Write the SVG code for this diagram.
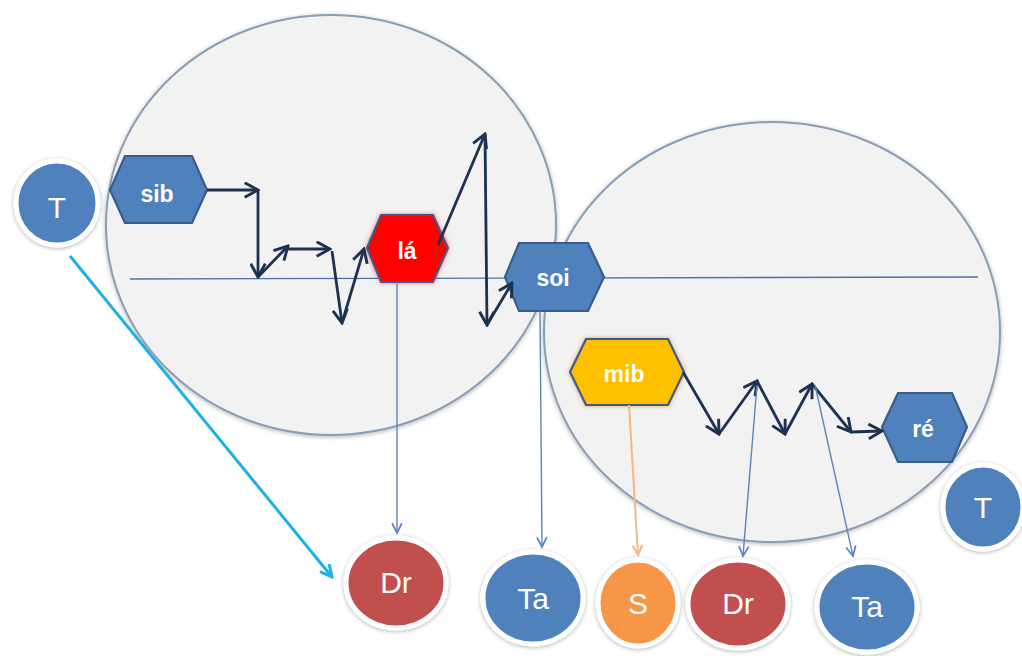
<svg xmlns="http://www.w3.org/2000/svg" width="1022" height="656" viewBox="0 0 1022 656">
<defs>
<style>
.big{fill:#F2F2F2;stroke:#8A9DB5;stroke-width:2;filter:url(#sh)}
.axis{stroke:#4A72AA;stroke-width:1.3;fill:none}
.hex{stroke:#385D8A;stroke-width:2.2}
.blue{fill:#4F81BD}
.red{fill:#C0504D}
.orange{fill:#F79646}
.circ{stroke:#FFFFFF;stroke-width:5;filter:url(#sh)}
.hl{font-family:"Liberation Sans",Arial,sans-serif;font-weight:bold;font-size:23px;fill:#FFFFFF;text-anchor:middle}
.cl{font-family:"Liberation Sans",Arial,sans-serif;font-size:30px;fill:#FFFFFF;text-anchor:middle}
.dk{stroke:#1C3250;stroke-width:2.8;fill:none;marker-end:url(#ad)}
.tb{stroke:#5A86BE;stroke-width:1.4;fill:none;marker-end:url(#at)}
.pc{stroke:#F2B88A;stroke-width:2;fill:none;marker-end:url(#ap)}
.cy{stroke:#1EB1E6;stroke-width:3;fill:none;marker-end:url(#ac)}
</style>
<filter id="sh" x="-20%" y="-20%" width="140%" height="140%">
<feDropShadow dx="0" dy="1" stdDeviation="2" flood-color="#000" flood-opacity="0.3"/>
</filter>
<filter id="gr" x="-20%" y="-20%" width="140%" height="140%">
<feDropShadow dx="0" dy="0" stdDeviation="2" flood-color="#FF3030" flood-opacity="0.7"/>
</filter>
<filter id="go" x="-20%" y="-20%" width="140%" height="140%">
<feDropShadow dx="0" dy="0" stdDeviation="2" flood-color="#E08020" flood-opacity="0.7"/>
</filter>
<marker id="ad" viewBox="0 0 14 14" refX="12.5" refY="7" markerWidth="17" markerHeight="17" markerUnits="userSpaceOnUse" orient="auto">
<path d="M1.5,1 L12.5,7 L1.5,13" fill="none" stroke="#1C3250" stroke-width="2.4"/>
</marker>
<marker id="at" viewBox="0 0 12 12" refX="10.5" refY="6" markerWidth="13" markerHeight="13" markerUnits="userSpaceOnUse" orient="auto">
<path d="M1.5,1.5 L10.5,6 L1.5,10.5" fill="none" stroke="#5A86BE" stroke-width="1.6"/>
</marker>
<marker id="ap" viewBox="0 0 12 12" refX="10.5" refY="6" markerWidth="13" markerHeight="13" markerUnits="userSpaceOnUse" orient="auto">
<path d="M1.5,1.5 L10.5,6 L1.5,10.5" fill="none" stroke="#F2B88A" stroke-width="2"/>
</marker>
<marker id="ac" viewBox="0 0 14 14" refX="12.5" refY="7" markerWidth="15" markerHeight="15" markerUnits="userSpaceOnUse" orient="auto">
<path d="M1.5,1.5 L12.5,7 L1.5,12.5" fill="none" stroke="#1EB1E6" stroke-width="2.8"/>
</marker>
</defs>

<g id="background">
<ellipse class="big" cx="331" cy="225" rx="225" ry="210"/>
<ellipse class="big" cx="772" cy="332" rx="228" ry="210"/>
<line class="axis" x1="130" y1="279" x2="978" y2="277"/>
</g>

<g id="node-T1">
<ellipse class="circ blue" cx="57" cy="203" rx="41" ry="42"/>
<text class="cl" x="57" y="218">T</text>
</g>
<g id="node-sib">
<polygon class="hex blue" points="110,190 125,156 192,156 207,190 192,223 125,223"/>
<text class="hl" x="157" y="202">sib</text>
</g>
<g id="node-la">
<polygon class="hex" fill="#FF0000" filter="url(#gr)" points="367,248 381,215 433,215 448,248 433,282 381,282"/>
<text class="hl" x="407" y="259">lá</text>
</g>
<g id="node-soi">
<polygon class="hex blue" points="505,277 519,243 588,243 604,277 588,311 519,311"/>
<text class="hl" x="553" y="286">soi</text>
</g>
<g id="node-mib">
<polygon class="hex" fill="#FFC000" filter="url(#go)" points="570,372 586,339 668,339 684,372 668,405 586,405"/>
<text class="hl" x="624" y="382">mib</text>
</g>
<g id="node-re">
<polygon class="hex blue" points="882,427 898,393 952,393 967,427 952,462 898,462"/>
<text class="hl" x="923" y="437">ré</text>
</g>
<g id="node-T2">
<ellipse class="circ blue" cx="983" cy="507" rx="40" ry="42"/>
<text class="cl" x="983" y="518">T</text>
</g>
<g id="node-Dr1">
<ellipse class="circ red" cx="396" cy="583" rx="50" ry="45"/>
<text class="cl" x="396" y="593">Dr</text>
</g>
<g id="node-Ta1">
<ellipse class="circ blue" cx="533" cy="598" rx="50" ry="46"/>
<text class="cl" x="533" y="609">Ta</text>
</g>
<g id="node-S">
<ellipse class="circ orange" cx="638" cy="603" rx="40" ry="43"/>
<text class="cl" x="638" y="614">S</text>
</g>
<g id="node-Dr2">
<ellipse class="circ red" cx="738" cy="604" rx="50" ry="44"/>
<text class="cl" x="738" y="614">Dr</text>
</g>
<g id="node-Ta2">
<ellipse class="circ blue" cx="867" cy="607" rx="50" ry="45"/>
<text class="cl" x="867" y="617">Ta</text>
</g>

<g id="connectors">
<line class="dk" x1="207" y1="190" x2="258" y2="190"/>
<line class="dk" x1="258" y1="190" x2="258" y2="277"/>
<line class="dk" x1="258" y1="277" x2="288" y2="246"/>
<line class="dk" x1="288" y1="249" x2="330" y2="249"/>
<line class="dk" x1="332" y1="251" x2="342" y2="323"/>
<line class="dk" x1="342" y1="323" x2="364" y2="249"/>
<line class="dk" x1="438" y1="245" x2="485" y2="134"/>
<line class="dk" x1="485" y1="134" x2="487" y2="325"/>
<line class="dk" x1="487" y1="325" x2="512" y2="283"/>
<line class="dk" x1="683" y1="372" x2="719" y2="434"/>
<line class="dk" x1="719" y1="434" x2="757" y2="381"/>
<line class="dk" x1="757" y1="381" x2="785" y2="434"/>
<line class="dk" x1="785" y1="434" x2="812" y2="384"/>
<line class="dk" x1="812" y1="384" x2="851" y2="432"/>
<line class="dk" x1="851" y1="432" x2="882" y2="431"/>
<line class="tb" x1="397" y1="282" x2="397" y2="533"/>
<line class="tb" x1="540" y1="311" x2="542" y2="547"/>
<line class="tb" x1="757" y1="385" x2="743" y2="556"/>
<line class="tb" x1="815" y1="385" x2="853" y2="556"/>
<line class="pc" x1="629" y1="405" x2="638" y2="555"/>
<line class="cy" x1="70" y1="256" x2="332" y2="577"/>
</g>
</svg>
